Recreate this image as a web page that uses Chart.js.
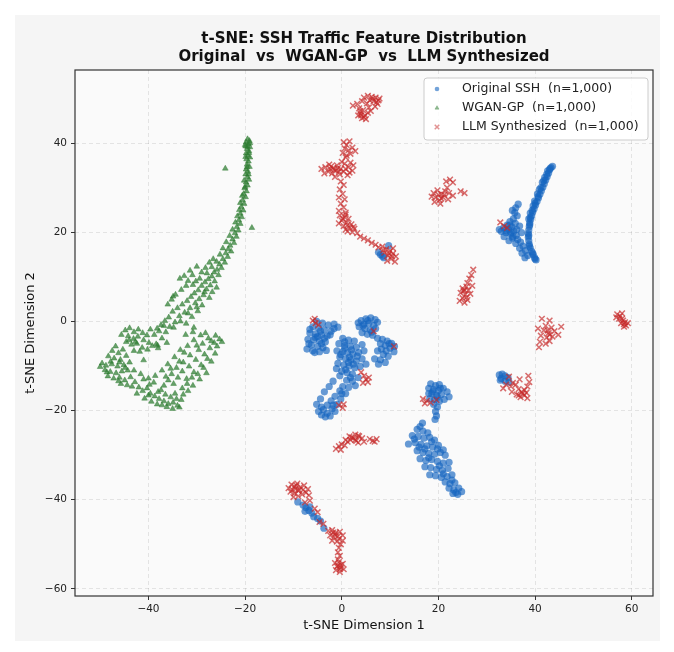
<!DOCTYPE html>
<html>
<head>
<meta charset="utf-8">
<script src="https://cdn.jsdelivr.net/npm/chart.js@4.4.0/dist/chart.umd.min.js"></script>
<style>
    html, body { margin: 0; padding: 0; background: #ffffff; }
    #wrap { width: 674px; height: 652px; }
</style>
</head>
<body>
<div id="wrap"><canvas id="tsne" width="674" height="652"></canvas></div>
<script>
// t-SNE coordinates, one [dim1, dim2] pair per marker
const originalSSH = [
    // long stick on the right
    [43.3,34.5],[43.6,34.8],[43.0,34.0],[42.8,33.3],[42.6,33.8],[42.5,32.5],[42.2,31.7],[42.0,32.3],[41.9,30.9],[41.6,30.1],
    [41.5,31.2],[41.3,29.3],[41.0,28.5],[40.9,29.6],[40.7,27.7],[40.5,28.6],[40.4,26.9],[40.1,26.1],[39.9,27.0],[39.8,25.3],
    [39.6,25.9],[39.5,24.5],[39.3,23.7],[39.0,24.3],[39.1,22.9],[38.9,22.1],[38.7,23.0],[38.8,21.3],[38.7,20.5],[38.6,19.7],
    [38.6,18.9],[38.7,18.1],[38.8,17.3],[39.0,16.5],[39.3,15.7],[39.6,15.0],[39.9,14.3],[40.2,13.8],
    [43.1,34.3],[42.4,33.0],[41.8,31.6],[41.2,30.0],[40.6,28.0],[40.0,26.5],[39.4,24.9],[39.0,23.3],[38.9,21.7],[38.7,19.3],
    [38.8,16.9],[39.5,15.3],[40.0,14.0],
    [36.0,25.5],[35.8,24.4],[36.3,23.7],[35.5,23.0],[34.8,22.4],[35.9,22.0],[34.2,21.6],[35.2,21.2],[33.5,21.0],[34.5,20.6],
    [35.6,20.3],[33.0,20.2],[34.0,19.9],[34.9,19.6],[36.1,19.3],[33.6,19.0],[35.3,18.7],[36.4,18.4],[34.6,18.1],[37.0,17.8],
    [36.0,17.5],[37.5,16.9],[36.8,16.4],[38.0,15.9],[37.3,15.3],[38.5,14.8],[37.9,14.3],[36.5,26.3],[35.3,24.9],[36.8,21.4],
    [37.2,19.9],[32.6,20.6],[34.8,21.6],[35.4,19.0],[36.2,20.6],[34.0,20.4],[35.0,20.0],
    // central cluster
    [-5.2,0.0],[-4.0,-0.4],[-2.8,-0.8],[-1.6,-0.6],[-0.8,-1.3],[-6.0,-1.2],[-4.8,-1.5],[-3.6,-1.9],[-2.2,-2.2],[-6.6,-2.6],
    [-5.4,-2.8],[-4.2,-3.0],[-3.0,-3.3],[-7.0,-4.0],[-5.8,-4.1],[-4.6,-4.4],[-3.4,-4.6],[-6.3,-5.3],[-5.0,-5.6],[-3.9,-5.9],
    [-7.2,-6.2],[-6.0,-6.6],[-4.6,-6.8],[-3.2,-6.5],[-5.5,-3.6],[-4.4,-2.2],
    [-6.6,-1.8],[-5.0,-3.4],[-3.6,-3.8],[-6.8,-5.0],[-4.2,-5.0],[-5.6,-7.0],[-2.4,-3.0],[-1.6,-1.6],
    [4.0,0.2],[5.0,0.6],[6.0,0.8],[6.9,0.4],[7.4,-0.2],[4.6,-0.6],[5.6,-0.4],[6.6,-0.9],[3.6,-1.2],[4.8,-1.6],
    [5.9,-1.9],[7.0,-1.6],[4.2,-2.5],[5.3,-2.9],[6.4,-3.1],[3.4,-0.3],[5.4,0.2],[6.2,-2.4],[4.4,-1.0],
    [0.2,-3.8],[1.4,-4.2],[2.6,-4.4],[-0.6,-5.0],[0.6,-5.4],[1.8,-5.6],[3.0,-5.8],[4.2,-5.2],[-1.0,-6.6],[0.2,-6.8],
    [1.2,-7.0],[2.3,-7.3],[3.5,-7.0],[4.6,-6.6],[-0.4,-8.0],[0.8,-8.4],[1.9,-8.6],[3.0,-8.9],[4.2,-8.4],[-0.8,-9.4],
    [0.4,-9.8],[1.5,-10.0],[2.7,-10.4],[3.8,-10.1],[0.0,-11.2],[1.1,-11.5],[2.2,-11.8],[-1.1,-10.6],[5.0,-9.6],[0.6,-6.0],
    [1.6,-8.0],[0.6,-4.6],[2.0,-6.4],[-0.2,-7.4],[1.4,-9.2],[2.4,-9.6],[3.2,-7.8],[0.8,-10.8],[-0.4,-12.2],
    [7.4,-3.8],[8.4,-4.0],[9.4,-4.4],[10.3,-4.9],[10.9,-5.6],[8.0,-5.0],[9.0,-5.4],[10.0,-6.0],[10.8,-6.8],[9.2,-6.6],
    [8.6,-7.4],[9.6,-7.8],[8.0,-8.6],[9.0,-9.2],[7.6,-9.6],[6.8,-8.4],[7.4,-6.6],[8.2,-6.2],[9.8,-5.0],
    [3.4,-12.6],[2.2,-13.4],[1.0,-13.2],[2.8,-14.4],[1.4,-14.8],[0.2,-14.6],[-0.4,-15.6],[0.8,-16.2],[-1.4,-16.8],[-0.2,-17.4],
    [-2.2,-17.8],[-1.0,-18.6],[-3.0,-18.8],[-2.0,-19.6],[-3.8,-19.8],[-3.0,-20.6],[-4.2,-21.0],[-2.4,-21.2],[-4.8,-20.2],[-1.4,-20.2],
    [-5.2,-18.6],[-4.4,-17.4],[-3.6,-15.8],[-2.6,-14.6],[-1.8,-13.4],[1.8,-12.6],[0.0,-16.2],[-1.8,-18.8],[-3.4,-21.4],[-4.2,-19.2],
    // small group near (20, -17)
    [18.4,-14.0],[19.4,-14.4],[20.2,-14.2],[18.0,-15.0],[19.0,-15.3],[20.0,-15.5],[21.0,-15.0],[21.8,-15.8],[18.6,-16.2],[19.6,-16.6],
    [20.6,-16.4],[22.2,-16.9],[18.2,-17.3],[19.2,-17.6],[20.2,-17.9],[21.2,-17.5],[19.0,-18.6],[19.8,-19.2],[19.4,-20.2],[19.6,-21.2],
    [19.3,-22.0],[18.0,-16.2],[18.8,-15.8],[20.4,-15.0],[19.8,-17.0],
    // diagonal group lower right
    [16.7,-22.8],[15.6,-24.2],[16.8,-24.6],[17.8,-25.0],[14.6,-25.6],[15.8,-25.8],[17.0,-26.2],[18.2,-26.0],[19.2,-26.6],[13.8,-27.5],
    [15.2,-27.2],[16.4,-27.6],[17.6,-27.9],[18.8,-28.2],[20.0,-27.8],[15.6,-29.0],[16.8,-29.4],[18.0,-29.6],[19.2,-29.8],[20.4,-29.4],
    [21.4,-30.0],[16.2,-30.8],[17.4,-31.2],[18.6,-31.0],[19.8,-31.4],[21.0,-31.8],[22.2,-31.6],[17.2,-32.6],[18.4,-32.8],[19.6,-33.2],
    [20.8,-33.4],[22.0,-33.0],[18.2,-34.4],[19.4,-34.6],[20.6,-35.0],[21.8,-34.8],[22.8,-34.4],[21.4,-36.0],[22.4,-36.4],[23.4,-36.2],
    [22.2,-37.4],[23.2,-37.8],[24.2,-37.4],[23.0,-38.6],[24.0,-38.8],[24.8,-38.2],[21.0,-28.8],[16.2,-23.6],
    [15.0,-26.4],[17.2,-28.6],[19.8,-28.6],[18.0,-30.6],[20.2,-32.4],[21.0,-34.2],[22.8,-35.6],[23.6,-38.4],[18.6,-27.0],[16.0,-28.2],
    // small pieces inside the LLM groups
    [-9.1,-40.5],[-8.0,-41.2],[-7.4,-41.8],[-6.8,-42.4],[-7.6,-42.6],[-6.2,-43.0],[-5.8,-43.8],[-5.0,-44.2],[-4.4,-44.8],[-3.7,-46.4],
    [-6.6,-41.6],
    [7.6,15.5],[8.0,15.0],[8.4,14.6],[8.7,14.3],[9.7,17.0],
    [32.6,-12.0],[33.2,-11.8],[33.8,-12.2],[34.4,-12.6],[33.0,-12.8],[33.8,-13.4],[34.6,-13.6],[32.8,-13.2]
];

const wganGP = [
    // head and tail
    [-19.5,40.9],[-19.1,40.5],[-19.8,40.2],[-19.3,39.8],[-19.9,39.3],[-19.0,39.1],[-19.6,38.7],[-19.2,38.2],[-19.8,37.7],[-19.4,37.2],
    [-19.0,36.8],[-19.7,36.4],[-19.3,35.9],[-19.6,35.2],[-19.1,34.7],[-19.8,34.1],[-19.4,33.6],[-19.9,33.0],[-19.5,32.4],[-19.2,31.8],
    [-19.8,31.2],[-19.5,30.5],[-20.1,29.9],[-19.7,29.2],[-20.3,28.6],[-19.9,27.9],[-20.5,27.2],[-20.2,26.4],[-20.8,25.7],[-20.4,24.9],
    [-21.0,24.2],[-20.7,23.4],[-21.3,22.7],[-21.0,21.9],[-21.7,21.2],[-21.4,20.4],[-22.1,19.8],[-21.8,19.0],[-22.6,18.4],[-22.3,17.6],
    [-23.1,17.0],[-23.5,16.2],[-22.9,15.7],[-24.0,15.3],[-23.6,14.5],[-24.6,14.0],[-24.2,13.2],[-25.3,12.8],[-24.9,12.0],[-25.8,11.6],
    [-26.4,11.0],[-25.5,10.4],[-26.9,10.1],[-27.6,9.5],[-26.3,9.0],[-28.3,8.8],[-27.2,8.1],[-29.0,8.0],[-25.9,7.6],[-28.0,7.2],
    [-29.7,7.0],[-26.8,6.6],[-30.5,6.3],[-28.6,5.9],[-31.2,5.5],[-29.5,5.0],[-27.4,5.3],[-32.0,4.6],[-30.3,4.1],[-28.9,3.6],
    [-33.0,3.8],[-31.4,3.0],[-34.0,3.0],[-29.8,2.3],[-32.5,2.0],[-35.0,2.2],[-33.6,1.2],[-31.0,1.0],[-35.8,0.9],[-36.6,0.1],
    [-34.5,-0.2],[-37.4,-0.8],[-35.6,-1.2],[-32.2,-0.5],[-38.2,-1.6],[-36.4,-2.4],[-30.6,-1.4],
    [-19.0,40.0],[-20.0,39.6],[-19.5,39.2],[-19.2,37.8],[-19.9,36.9],[-19.6,34.6],[-19.3,33.0],[-20.2,31.6],[-20.0,30.2],[-20.6,28.2],
    [-21.0,26.6],[-21.2,25.0],[-21.6,23.6],[-22.0,22.2],[-22.6,20.6],[-23.2,19.2],[-23.9,17.8],[-24.6,16.4],[-25.2,15.0],[-25.9,13.4],
    [-26.9,12.2],[-27.9,10.8],[-29.4,9.6],[-30.8,8.2],[-28.4,6.6],[-30.0,3.2],[-31.8,1.8],[-33.4,0.0],[-34.8,-1.4],[-36.8,-1.0],
    [-24.1,34.3],[-18.6,21.0],
    [-33.5,9.6],[-32.6,10.2],[-31.8,9.1],[-30.9,10.4],[-32.2,8.0],[-33.2,7.1],[-34.4,6.0],[-35.2,4.9],[-36.0,3.8],[-34.9,5.6],
    [-30.2,9.0],[-29.0,11.0],[-28.2,12.0],[-27.4,13.2],[-26.6,14.0],[-31.4,11.4],[-30.0,12.3],
    // lower body
    [-44.8,-2.0],[-43.9,-1.5],[-43.0,-2.4],[-42.1,-1.8],[-41.2,-2.6],[-40.3,-3.1],[-44.2,-3.3],[-43.1,-3.9],[-42.2,-3.4],[-41.0,-4.2],
    [-39.9,-4.8],[-44.6,-4.6],[-43.5,-5.2],[-42.4,-5.0],[-41.3,-5.9],[-40.2,-6.3],[-43.0,-6.6],[-39.2,-5.5],[-38.4,-5.1],[-38.0,-6.0],
    [-46.8,-5.6],[-47.5,-6.6],[-46.2,-7.1],[-45.3,-6.3],[-48.3,-7.8],[-47.1,-8.3],[-45.8,-8.6],[-44.6,-7.7],[-49.6,-9.4],[-48.8,-9.9],
    [-47.6,-9.6],[-46.4,-10.1],[-45.1,-9.8],[-43.9,-9.2],[-49.0,-10.9],[-47.9,-11.3],[-46.7,-11.6],[-45.5,-11.2],[-44.3,-11.0],[-48.4,-12.3],
    [-47.2,-12.8],[-46.0,-12.6],[-44.9,-13.2],[-43.7,-12.5],[-45.7,-14.0],[-44.4,-14.3],[-42.8,-13.6],[-50.0,-10.2],
    [-42.0,-14.8],[-41.2,-15.6],[-40.3,-15.0],[-39.6,-16.2],[-38.7,-16.8],[-37.8,-17.4],[-36.8,-17.9],[-35.9,-18.5],[-34.9,-18.2],[-34.0,-18.9],
    [-33.2,-17.6],[-40.8,-17.3],[-39.4,-18.0],[-38.2,-18.6],[-36.5,-16.4],[-35.4,-17.0],[-37.4,-15.4],[-34.5,-16.2],[-33.6,-19.3],[-36.2,-19.2],
    [-41.6,-11.8],[-40.0,-12.8],[-38.9,-13.7],
    [-36.8,-14.4],[-35.9,-13.2],[-34.8,-14.0],[-33.9,-12.6],[-35.2,-11.8],[-33.0,-11.2],[-32.1,-12.9],[-34.2,-10.4],[-31.6,-10.1],[-30.6,-11.4],
    [-32.8,-9.2],[-30.2,-8.6],[-29.1,-9.8],[-31.4,-7.6],[-28.4,-7.4],[-29.6,-6.4],[-27.3,-6.0],[-28.8,-5.0],[-26.4,-4.8],[-25.3,-4.0],
    [-27.6,-3.8],[-26.1,-3.2],[-30.6,-4.2],[-31.9,-5.5],[-33.4,-6.4],[-32.3,-3.0],[-30.8,-2.4],[-29.2,-3.1],[-34.6,-8.0],[-36.0,-9.6],
    [-37.2,-11.0],[-28.0,-11.6],[-29.4,-13.0],[-30.8,-14.4],[-31.8,-15.6],[-32.8,-16.4],[-27.0,-9.0],[-26.2,-7.2],
    [-41.0,-8.7],[-38.1,-5.4],[-37.2,-3.8],[-36.2,-4.8],[-38.8,-3.0],[-39.6,-1.8],[-37.8,-2.2],
    [-45.6,-3.0],[-44.0,-4.2],[-42.7,-4.6],[-41.8,-6.8],[-47.8,-9.0],[-46.0,-9.2],[-44.8,-10.4],[-48.6,-11.4],[-46.2,-13.4],[-43.4,-14.6],
    [-42.4,-16.2],[-40.0,-16.6],[-38.0,-15.8],[-37.2,-18.8],[-35.0,-19.6],[-34.2,-17.4],[-33.0,-15.0],[-32.0,-14.0],[-31.0,-12.6],[-29.8,-11.8],
    [-28.6,-10.4],[-27.8,-8.4],[-25.8,-5.6],[-24.8,-4.6],[-27.0,-4.4],[-28.2,-2.6],[-30.0,-5.4],[-32.6,-7.0],[-33.6,-9.0],[-35.4,-10.6],
    [-36.4,-12.4],[-38.6,-12.2],[-39.8,-14.2],[-41.0,-13.0],[-43.0,-11.0]
];

const llmSynth = [
    // ring at the top
    [5.4,50.6],[6.2,50.4],[7.0,50.2],[7.6,49.6],[5.8,49.6],[6.6,49.4],[7.4,48.8],[5.2,48.9],[6.9,48.2],[2.3,48.4],
    [3.2,48.8],[4.2,49.4],[3.6,47.8],[4.4,47.4],[3.9,46.6],[4.8,46.2],[5.4,46.8],[4.2,45.6],[5.0,45.4],[3.4,46.2],
    [6.0,47.2],[5.6,48.0],[7.8,50.0],[4.6,50.2],[6.4,50.0],[7.2,49.2],[4.0,46.2],[4.6,45.8],[3.8,47.2],
    [0.4,40.2],[1.0,39.6],[1.6,40.4],[0.6,38.8],[1.4,38.4],[2.2,39.0],[0.2,37.8],[1.0,37.2],[1.8,37.6],[2.8,38.2],[0.8,36.8],
    [-4.2,34.2],[-3.4,34.6],[-2.6,35.2],[-1.8,34.4],[-1.0,35.0],[-0.2,34.2],[0.6,35.4],[1.4,34.6],[2.2,33.8],[-2.8,33.6],
    [-2.0,33.2],[-1.2,33.8],[-0.4,33.0],[0.4,33.6],[1.2,32.8],[2.4,35.0],[-3.6,33.2],[-1.4,32.4],[0.0,35.8],[1.8,35.6],
    [-2.2,34.8],[-0.8,34.4],[-1.6,34.0],[-0.6,33.6],[0.8,34.2],[-2.4,34.2],[1.6,33.4],
    [-0.2,31.4],[0.4,30.6],[-0.4,29.6],[0.2,28.6],[-0.6,27.8],[0.6,27.4],[-0.2,26.4],[0.4,25.6],[-0.6,24.8],[0.8,24.4],
    [-0.4,23.8],[0.6,23.4],[1.4,23.0],[0.0,22.6],[1.0,22.2],[2.0,21.8],[0.4,21.4],[1.6,21.0],[2.6,20.8],[-0.6,22.0],
    [1.2,20.2],[2.2,20.0],[3.2,19.8],[0.8,24.0],[0.2,23.0],[1.2,21.6],[2.4,21.2],[0.8,20.6],
    [3.8,19.0],[4.6,18.6],[5.4,18.2],[6.2,17.6],[7.0,17.2],
    [7.6,16.6],[8.4,16.8],[9.2,16.2],[10.0,15.8],[8.8,15.4],[9.6,14.8],[10.6,15.2],[11.2,14.6],[10.2,14.0],[11.0,13.4],
    [9.4,13.6],[10.6,16.4],[9.8,15.2],[10.4,14.6],[8.6,16.0],
    // groups on the right
    [19.0,28.8],[19.8,29.4],[20.6,28.6],[21.4,29.2],[22.2,28.8],[19.4,27.8],[20.2,27.2],[21.0,27.8],[22.0,27.4],[23.0,28.2],
    [19.2,26.8],[20.4,26.4],[21.6,31.4],[22.4,31.8],[23.0,31.2],[18.6,28.0],[24.6,29.2],[25.4,28.8],[21.8,30.0],
    [20.0,28.4],[21.2,28.4],[20.6,27.6],
    [27.2,11.6],[26.8,10.4],[26.4,9.6],[26.0,8.6],[25.8,7.8],[25.0,7.4],[26.2,7.0],[24.6,6.4],[25.6,6.0],[26.6,6.2],
    [25.0,5.2],[26.0,4.8],[24.4,4.6],[25.4,4.2],[27.0,8.0],[25.2,6.8],[25.8,5.4],[25.4,7.0],
    [41.4,0.6],[43.0,0.2],[42.2,-1.0],[43.4,-1.4],[41.8,-2.0],[42.8,-2.6],[44.0,-2.2],[45.4,-1.2],[41.2,-3.2],[42.4,-3.6],
    [43.6,-3.4],[44.8,-3.0],[41.0,-4.6],[42.2,-5.0],[40.8,-5.8],[43.0,-4.4],[40.6,-1.6],[42.6,-2.0],[43.0,-3.0],
    [57.0,1.6],[57.6,1.2],[58.0,1.8],[57.4,0.6],[58.2,0.2],[57.8,-0.4],[58.6,-0.2],[58.8,-0.9],[59.2,-0.4],[58.4,-1.2],
    [56.8,0.9],[58.0,0.6],[58.4,-0.6],
    [34.6,-12.4],[35.4,-13.8],[35.0,-14.6],[36.0,-14.2],[36.6,-15.2],[37.2,-15.8],[37.8,-16.6],[38.2,-16.0],[37.0,-17.0],[38.4,-17.2],
    [36.2,-16.4],[35.2,-15.8],[38.6,-12.2],[38.8,-13.6],[38.4,-14.6],[34.0,-14.2],[33.4,-15.0],[36.8,-13.0],
    [37.4,-16.2],[37.8,-15.4],[36.6,-16.6],
    [32.8,22.2],[33.6,21.4],[34.2,21.0],
    // scattered inside the central blue cluster
    [-6.0,0.2],[-5.4,-0.4],[-4.8,-0.8],[-5.6,0.6],[4.0,-11.4],[4.6,-12.2],[5.0,-13.0],[5.4,-13.6],[4.4,-13.8],[5.6,-12.6],
    [-0.6,-18.8],[0.2,-19.4],[0.4,-18.6],[6.6,-2.2],[10.8,-5.6],
    [-1.2,-28.6],[-0.6,-28.0],[0.0,-27.6],[0.6,-27.8],[1.2,-27.0],[1.8,-26.6],[2.4,-26.2],[3.0,-26.8],[3.6,-25.8],[4.2,-26.2],
    [2.8,-25.4],[1.6,-25.8],[0.8,-26.6],[-0.2,-28.8],[4.6,-27.0],[3.4,-27.2],[5.8,-26.4],[6.4,-26.8],[7.2,-26.4],[6.8,-27.0],
    [2.0,-26.0],[2.8,-26.6],[3.4,-25.6],
    [16.8,-17.4],[17.6,-17.8],[18.4,-18.2],[19.6,-17.6],[17.2,-18.4],
    // chain at the bottom left
    [-11.0,-37.4],[-10.4,-36.6],[-9.8,-37.0],[-9.2,-36.4],[-8.6,-37.2],[-7.8,-36.8],[-7.0,-37.6],[-10.6,-38.2],[-9.8,-38.6],[-9.0,-38.0],
    [-8.2,-38.8],[-7.4,-38.4],[-10.0,-39.4],[-9.0,-39.2],[-6.8,-39.0],
    [-9.6,-37.6],[-8.8,-37.8],[-10.2,-37.8],[-9.4,-36.8],[-8.0,-37.8],
    [-7.6,-40.6],[-6.6,-40.2],[-5.6,-42.0],[-5.0,-42.8],[-4.6,-45.0],[-3.8,-45.4],
    [-2.8,-47.0],[-2.0,-46.8],[-1.2,-47.4],[-0.4,-47.2],[0.2,-48.0],[-2.4,-48.0],[-1.6,-48.4],[-0.8,-48.2],[-2.0,-49.2],[-1.0,-49.4],
    [0.2,-49.2],[-0.2,-50.0],[-1.4,-47.8],[-0.6,-48.8],[-1.8,-47.4],
    [-0.6,-50.8],[-0.8,-51.8],[-0.4,-52.6],[-0.8,-53.4],
    [-1.4,-54.2],[-0.6,-54.0],[0.2,-54.4],[-1.0,-55.0],[-0.2,-55.2],[0.4,-55.6],[-1.2,-55.8],[-0.4,-56.2],
    [-0.8,-54.8],[-0.4,-55.6],[-0.2,-54.6]
];

const seriesLabels = ['Original SSH  (n=1,000)', 'WGAN-GP  (n=1,000)', 'LLM Synthesized  (n=1,000)'];
const xTickValues = [-40, -20, 0, 20, 40, 60];
const yTickValues = [-60, -40, -20, 0, 20, 40];
const titleLines = ['t-SNE: SSH Traffic Feature Distribution', 'Original  vs  WGAN-GP  vs  LLM Synthesized'];

const FONT = "'DejaVu Sans', 'Liberation Sans', sans-serif";
Chart.defaults.font.family = FONT;

const toXY = pts => pts.map(p => ({ x: p[0], y: p[1] }));
const minusSign = v => (v < 0 ? '\u2212' + Math.abs(v) : String(v));

// figure background, axes background, frame, title and the boxed legend
const figureDecor = {
    id: 'figureDecor',
    beforeDraw(chart) {
        const { ctx, chartArea: a } = chart;
        ctx.save();
        ctx.fillStyle = '#ffffff';
        ctx.fillRect(0, 0, chart.width, chart.height);
        ctx.fillStyle = '#f5f5f5';
        ctx.fillRect(15, 15, 645, 626);
        ctx.fillStyle = '#fafafa';
        ctx.fillRect(a.left, a.top, a.right - a.left, a.bottom - a.top);
        ctx.restore();
    },
    afterDraw(chart) {
        const { ctx, chartArea: a } = chart;
        ctx.save();
        ctx.strokeStyle = '#333333';
        ctx.lineWidth = 1.2;
        ctx.strokeRect(a.left, a.top, a.right - a.left, a.bottom - a.top);

        // title
        ctx.fillStyle = '#111111';
        ctx.font = `bold 15px ${FONT}`;
        ctx.textAlign = 'center';
        ctx.textBaseline = 'middle';
        const cx = (a.left + a.right) / 2;
        ctx.fillText(titleLines[0], cx, 39);
        ctx.fillText(titleLines[1], cx, 57);

        // legend
        const lx = 424, ly = 78, lw = 224, lh = 62;
        ctx.beginPath();
        ctx.roundRect(lx, ly, lw, lh, 3);
        ctx.fillStyle = 'rgba(255,255,255,0.85)';
        ctx.fill();
        ctx.strokeStyle = '#cccccc';
        ctx.lineWidth = 1;
        ctx.stroke();
        ctx.font = `12.5px ${FONT}`;
        ctx.textAlign = 'left';
        chart.data.datasets.forEach((ds, i) => {
            const y = ly + 11 + i * 19;
            ctx.fillStyle = ds.legendColor;
            ctx.strokeStyle = ds.legendColor;
            ctx.lineWidth = ds.borderWidth || 1;
            Chart.helpers.drawPoint(ctx, {
                pointStyle: ds.pointStyle,
                radius: ds.legendRadius,
                rotation: 0,
                borderWidth: ds.borderWidth
            }, lx + 13, y);
            ctx.fillStyle = '#222222';
            ctx.fillText(ds.label, lx + 38, y);
        });
        ctx.restore();
    }
};

new Chart(document.getElementById('tsne'), {
    type: 'scatter',
    data: {
        datasets: [
            {
                label: seriesLabels[0],
                data: toXY(originalSSH),
                pointStyle: 'circle',
                pointRadius: 3.6,
                legendRadius: 2.3,
                legendColor: 'rgba(21,101,192,0.6)',
                backgroundColor: 'rgba(21,101,192,0.65)',
                borderColor: 'rgba(21,101,192,0.65)',
                borderWidth: 0,
                order: 3
            },
            {
                label: seriesLabels[1],
                data: toXY(wganGP),
                pointStyle: 'triangle',
                pointRadius: 3.3,
                legendRadius: 2.3,
                legendColor: 'rgba(46,125,50,0.5)',
                backgroundColor: 'rgba(46,125,50,0.72)',
                borderColor: 'rgba(46,125,50,0.72)',
                borderWidth: 0.6,
                order: 2
            },
            {
                label: seriesLabels[2],
                data: toXY(llmSynth),
                pointStyle: 'crossRot',
                pointRadius: 4,
                legendRadius: 3.2,
                legendColor: 'rgba(198,40,40,0.5)',
                backgroundColor: 'rgba(198,40,40,0.68)',
                borderColor: 'rgba(198,40,40,0.68)',
                borderWidth: 1.5,
                order: 1
            }
        ]
    },
    options: {
        responsive: false,
        animation: false,
        devicePixelRatio: 1,
        layout: { padding: { top: 70, right: 21, left: 0, bottom: 0 } },
        plugins: {
            legend: { display: false },
            tooltip: { enabled: false },
            title: { display: false }
        },
        scales: {
            x: {
                type: 'linear',
                min: -55.2,
                max: 64.4,
                afterFit: s => { s.height = 56; },
                afterBuildTicks: s => { s.ticks = xTickValues.map(v => ({ value: v })); },
                ticks: { callback: v => minusSign(v), font: { size: 10.5 }, color: '#222222', padding: 3, maxRotation: 0 },
                grid: { color: 'rgba(0,0,0,0.09)', tickColor: '#333333', tickLength: 4, tickWidth: 1 },
                border: { display: false, dash: [4, 3] },
                title: { display: true, text: 't-SNE Dimension 1', font: { size: 13 }, color: '#111111', padding: { top: 0, bottom: 19 } }
            },
            y: {
                type: 'linear',
                min: -61.6,
                max: 56.4,
                afterFit: s => { s.width = 75; },
                afterBuildTicks: s => { s.ticks = yTickValues.map(v => ({ value: v })); },
                ticks: { callback: v => minusSign(v), font: { size: 10.5 }, color: '#222222', padding: 4 },
                grid: { color: 'rgba(0,0,0,0.09)', tickColor: '#333333', tickLength: 4, tickWidth: 1 },
                border: { display: false, dash: [4, 3] },
                title: { display: true, text: 't-SNE Dimension 2', font: { size: 13 }, color: '#111111', padding: { top: 23, bottom: 0 } }
            }
        }
    },
    plugins: [figureDecor]
});
</script>
</body>
</html>
